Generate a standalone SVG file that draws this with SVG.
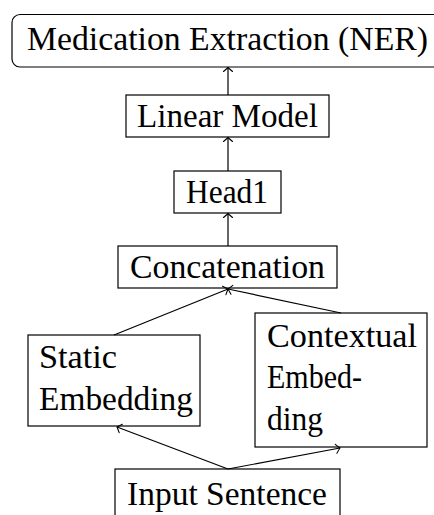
<svg xmlns="http://www.w3.org/2000/svg" width="434" height="515" viewBox="0 0 434 515">
<defs>
<style>
.box{fill:#fff;stroke:#000;stroke-width:1.2}
.t{font-family:"Liberation Serif","DejaVu Serif",serif;font-size:33px;fill:#000}
.c{fill:none;stroke:#000;stroke-width:1.2}
</style>
<marker id="to" markerUnits="userSpaceOnUse" markerWidth="12" markerHeight="12" refX="0" refY="0" viewBox="-6 -6 12 12" orient="auto" overflow="visible">
<path d="M-4,-4.5 Q-1,-1 0,0 Q-1,1 -4,4.5" fill="none" stroke="#000" stroke-width="1.1" stroke-linecap="round"/>
</marker>
</defs>
<g id="ner">
<rect class="box" x="12" y="14.5" width="440" height="52.5" rx="8"/>
<text class="t" x="27" y="50" textLength="401" lengthAdjust="spacingAndGlyphs">Medication Extraction (NER)</text>
</g>
<g id="linear">
<rect class="box" x="126" y="95" width="203" height="42"/>
<text class="t" x="137" y="127" textLength="181" lengthAdjust="spacingAndGlyphs">Linear Model</text>
</g>
<g id="head1">
<rect class="box" x="174" y="171" width="107" height="42"/>
<text class="t" x="186" y="203" textLength="82" lengthAdjust="spacingAndGlyphs">Head1</text>
</g>
<g id="concat">
<rect class="box" x="118" y="246" width="219" height="42"/>
<text class="t" x="130" y="278" textLength="195" lengthAdjust="spacingAndGlyphs">Concatenation</text>
</g>
<g id="static">
<rect class="box" x="28" y="335" width="172" height="91"/>
<text class="t" x="39" y="368" textLength="78" lengthAdjust="spacingAndGlyphs">Static</text>
<text class="t" x="39" y="410" textLength="154" lengthAdjust="spacingAndGlyphs">Embedding</text>
</g>
<g id="contextual">
<rect class="box" x="255" y="313" width="172" height="134"/>
<text class="t" x="267" y="347" textLength="150" lengthAdjust="spacingAndGlyphs">Contextual</text>
<text class="t" x="267" y="388" textLength="95" lengthAdjust="spacingAndGlyphs">Embed-</text>
<text class="t" x="267" y="430" textLength="56" lengthAdjust="spacingAndGlyphs">ding</text>
</g>
<g id="input">
<rect class="box" x="115" y="469" width="225" height="60"/>
<text class="t" x="127" y="505" textLength="200" lengthAdjust="spacingAndGlyphs">Input Sentence</text>
</g>
<g id="connectors">
<line class="c" x1="228" y1="95" x2="228" y2="67.5" marker-end="url(#to)"/>
<line class="c" x1="228" y1="171" x2="228" y2="137.5" marker-end="url(#to)"/>
<line class="c" x1="228" y1="246" x2="228" y2="213.5" marker-end="url(#to)"/>
<line class="c" x1="114" y1="335" x2="228" y2="289" marker-end="url(#to)"/>
<line class="c" x1="341" y1="313" x2="228" y2="289" marker-end="url(#to)"/>
<line class="c" x1="228" y1="469" x2="117" y2="427" marker-end="url(#to)"/>
<line class="c" x1="228" y1="469" x2="340" y2="448" marker-end="url(#to)"/>
</g>
</svg>
